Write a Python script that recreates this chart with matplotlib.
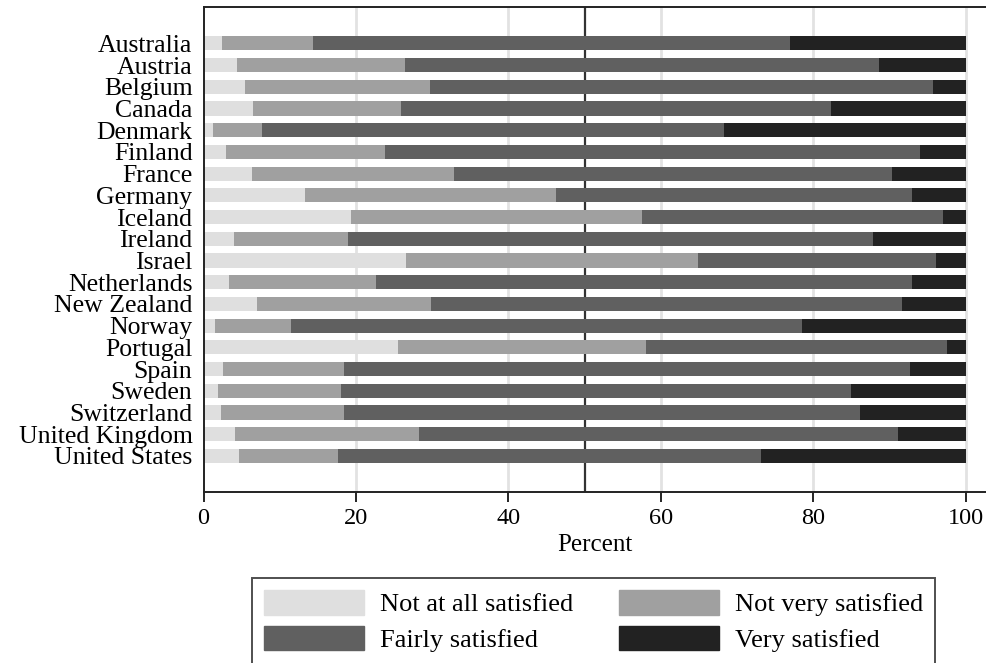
import numpy as np
import matplotlib
matplotlib.use("Agg")
from matplotlib import pyplot as plt
from matplotlib.patches import Patch

countries = ["Australia", "Austria", "Belgium", "Canada", "Denmark", "Finland",
             "France", "Germany", "Iceland", "Ireland", "Israel", "Netherlands",
             "New Zealand", "Norway", "Portugal", "Spain", "Sweden", "Switzerland",
             "United Kingdom", "United States"]

# shares in percent, each row sums to 100
not_at_all = [2.4, 4.4, 5.4, 6.5, 1.2, 3.0, 6.3, 13.3, 19.3, 4.0,
              26.6, 3.3, 7.0, 1.5, 25.5, 2.5, 1.9, 2.3, 4.1, 4.7]
not_very = [11.9, 22.1, 24.3, 19.4, 6.5, 20.8, 26.5, 33.0, 38.2, 15.0,
            38.3, 19.3, 22.8, 10.0, 32.6, 15.9, 16.2, 16.1, 24.2, 12.9]
fairly = [62.7, 62.1, 66.0, 56.4, 60.6, 70.2, 57.5, 46.7, 39.5, 68.8,
          31.2, 70.3, 61.9, 67.0, 39.5, 74.3, 66.9, 67.8, 62.8, 55.5]
very = [23.0, 11.4, 4.3, 17.7, 31.7, 6.0, 9.7, 7.0, 3.0, 12.2,
        3.9, 7.1, 8.3, 21.5, 2.4, 7.3, 15.0, 13.8, 8.9, 26.9]

labels = ["Not at all satisfied", "Not very satisfied", "Fairly satisfied", "Very satisfied"]
colors = ["#dfdfdf", "#a0a0a0", "#606060", "#222222"]

plt.rcParams["font.family"] = ["Liberation Serif", "DejaVu Serif"]

fig = plt.figure(figsize=(9.87, 6.63), dpi=100)
ax = fig.add_axes([0.2062, 0.2579, 0.7938, 0.7315])

y = np.arange(len(countries))
left = np.zeros(len(countries))
for vals, col, lab in zip([not_at_all, not_very, fairly, very], colors, labels):
    vals = np.array(vals)
    ax.barh(y, vals, left=left, height=0.65, color=col, label=lab, zorder=2)
    left = left + vals

# grid and the 50% reference line, both behind the bars
for gx in [20, 40, 60, 80, 100]:
    ax.axvline(gx, color="#e2e2e2", lw=2, zorder=0)
ax.axvline(50, color="#333333", lw=1.6, zorder=1)

ax.set_xlim(0, 102.8)
ax.set_ylim(len(countries) - 1 + 1.66, -1.67)
ax.set_xticks([0, 20, 40, 60, 80, 100])
ax.set_yticks(y)
ax.set_yticklabels(countries, fontsize=18.5)
ax.tick_params(axis="y", length=0, pad=8)
ax.tick_params(axis="x", length=7.2, width=1.2, pad=4, labelsize=17.5)
ax.set_xlabel("Percent", fontsize=18, labelpad=4)

for s in ["left", "top", "bottom"]:
    ax.spines[s].set_linewidth(1.4)
    ax.spines[s].set_color("#222222")
ax.spines["right"].set_visible(False)

# legend, two columns laid out row by row
h = [Patch(facecolor=c, edgecolor=c) for c in colors]
order = [0, 2, 1, 3]
leg = fig.legend([h[i] for i in order], [labels[i] for i in order],
                 loc="upper left", bbox_to_anchor=(251.7 / 987, 1 - 578.3 / 663),
                 ncol=2, fontsize=19, frameon=True, fancybox=False,
                 borderaxespad=0, borderpad=0.45, labelspacing=0.36,
                 handlelength=3.8, handleheight=1.05, handletextpad=0.6,
                 columnspacing=1.75)
leg.get_frame().set_edgecolor("#222222")
leg.get_frame().set_linewidth(1.4)

fig.savefig("out.png", dpi=100)
